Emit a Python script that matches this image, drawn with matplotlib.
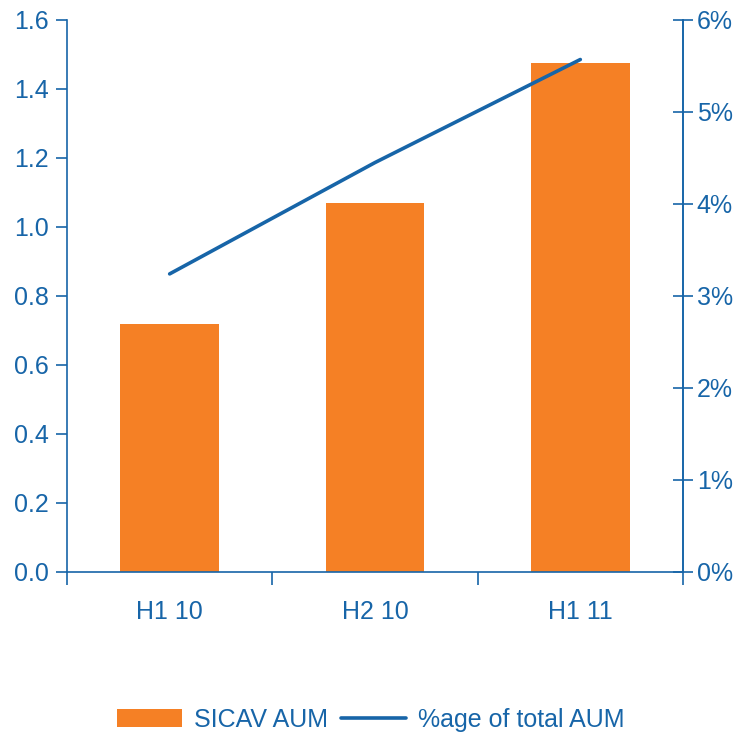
import matplotlib.pyplot as plt
import matplotlib.ticker as mtick
import numpy as np

plt.rcParams['font.family'] = ['Liberation Sans', 'DejaVu Sans']

periods = ["H1 10", "H2 10", "H1 11"]
sicav_aum = [0.72, 1.07, 1.475]
pct_total = [3.24, 4.45, 5.57]

orange = "#F58025"
blue = "#1765A8"
fs = 18

fig = plt.figure(figsize=(7.41, 7.39), dpi=100)
ax = fig.add_axes([0.0904, 0.226, 0.8313, 0.747])
ax2 = ax.twinx()

x = np.arange(len(periods))
bars = ax.bar(x, sicav_aum, width=0.48, color=orange, label="SICAV AUM", zorder=2)
line, = ax2.plot(x, pct_total, color=blue, lw=2.6, label="%age of total AUM",
                 solid_capstyle="round")

ax.set_xlim(-0.5, 2.5)
ax.set_ylim(0, 1.6)
ax.set_yticks(np.arange(0, 1.61, 0.2))
ax.yaxis.set_major_formatter(mtick.FormatStrFormatter("%.1f"))
ax2.set_ylim(0, 6)
ax2.set_yticks(range(0, 7))
ax2.yaxis.set_major_formatter(mtick.FuncFormatter(lambda v, p: f"{int(v)}%"))

ax.set_xticks([-0.5, 0.5, 1.5, 2.5])
ax.set_xticklabels([])
ax.set_xticks(x, minor=True)
ax.set_xticklabels(periods, minor=True)
ax.tick_params(axis="x", which="minor", length=0, pad=20, labelsize=fs, labelcolor=blue)
ax.tick_params(axis="x", which="major", direction="out", length=9, width=1.2, color=blue)
ax.tick_params(axis="y", direction="out", length=8, width=1.2, color=blue,
               labelsize=fs, labelcolor=blue, pad=5)
ax2.tick_params(axis="y", direction="inout", length=14, width=1.2, color=blue,
                labelsize=fs, labelcolor=blue, pad=3)

for a in (ax, ax2):
    a.spines["top"].set_visible(False)
    for s in ("left", "right", "bottom"):
        a.spines[s].set_color(blue)
        a.spines[s].set_linewidth(1.2)
ax2.spines["left"].set_visible(False)
ax2.spines["bottom"].set_visible(False)

fig.legend([bars, line], ["SICAV AUM", "%age of total AUM"], loc="center",
           bbox_to_anchor=(0.5, 0.026), ncol=2, frameon=False, fontsize=fs,
           labelcolor=blue, handlelength=2.6, handletextpad=0.5, columnspacing=0.5)

fig.savefig("out.png", dpi=100)
